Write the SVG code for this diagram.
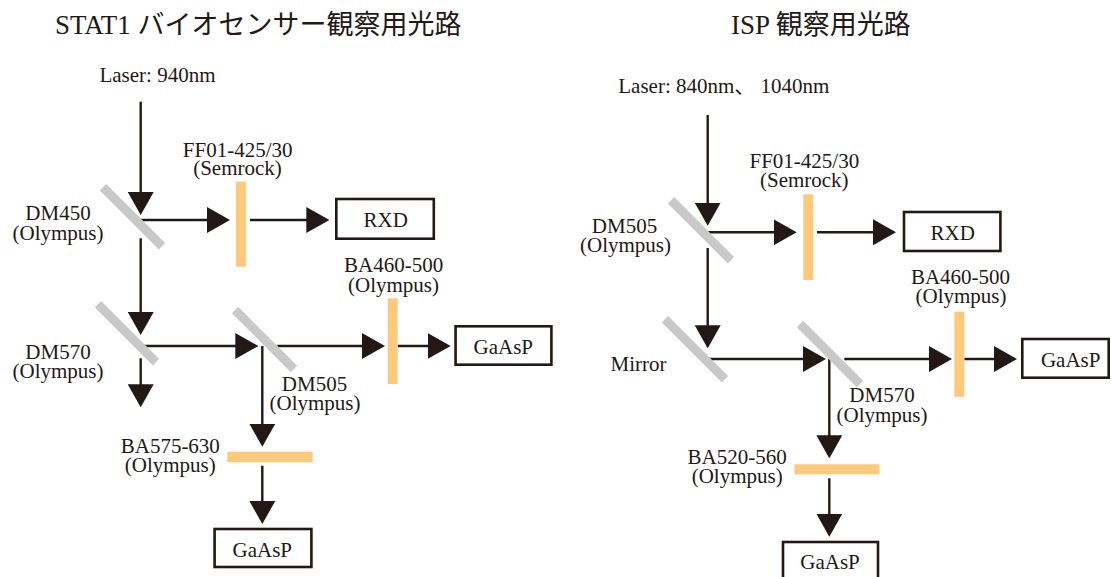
<svg xmlns="http://www.w3.org/2000/svg" width="1111" height="577" viewBox="0 0 1111 577">
<style>
  text { font-family: "Liberation Serif", "Times New Roman", serif; fill: #231815; font-size: 21px; }
  .jp { font-family: "Noto Sans CJK JP", sans-serif; }
  .title { font-size: 27px; }
  .mid { text-anchor: middle; }
  .mirror { stroke: #c9c9c9; stroke-width: 9; fill: none; }
  .filter { fill: #fdc97c; }
  .box { fill: #ffffff; stroke: #231815; stroke-width: 2.6; }
  .ray { stroke: #231815; stroke-width: 2.4; fill: none; marker-end: url(#ah); }
</style>
<defs>
  <marker id="ah" viewBox="0 0 23 26" refX="13" refY="13" markerWidth="23" markerHeight="26" markerUnits="userSpaceOnUse" orient="auto">
    <path d="M0,0 L23,13 L0,26 Z" fill="#231815"/>
  </marker>
</defs>
<rect width="1111" height="577" fill="#ffffff"/>

<!-- Titles -->
<g id="title-left"><text class="title" x="55" y="34">STAT1 <tspan class="jp">バイオセンサー観察用光路</tspan></text></g>
<g id="title-right"><text class="title" x="731" y="34">ISP <tspan class="jp">観察用光路</tspan></text></g>

<!-- Connectors (line end = tip - 10) -->
<g id="connectors">
  <!-- left -->
  <path class="ray" d="M140.7,101.7 V205"/>
  <path class="ray" d="M140.7,220 H220"/>
  <path class="ray" d="M250,220 H319.3"/>
  <path class="ray" d="M140.7,238.3 V325"/>
  <path class="ray" d="M141.7,346 H248.3"/>
  <path class="ray" d="M140.7,358.3 V397.3"/>
  <path class="ray" d="M262.3,346 V436.7"/>
  <path class="ray" d="M277.3,346 H375"/>
  <path class="ray" d="M397.7,346 H440.7"/>
  <path class="ray" d="M262.3,465.7 V514"/>
  <!-- right -->
  <path class="ray" d="M707.7,115 V215.7"/>
  <path class="ray" d="M707.7,232.3 H786.7"/>
  <path class="ray" d="M817,232.3 H886"/>
  <path class="ray" d="M707.7,248 V338.3"/>
  <path class="ray" d="M709,359 H816"/>
  <path class="ray" d="M844.3,359 H942"/>
  <path class="ray" d="M964.3,359 H1007"/>
  <path class="ray" d="M829.3,359 V448.3"/>
  <path class="ray" d="M829.3,478.3 V526.7"/>
</g>

<!-- Left diagram nodes -->
<g id="laser-left"><text class="mid" x="157.5" y="81.7">Laser: 940nm</text></g>
<g id="dm450">
  <line class="mirror" x1="103" y1="187.3" x2="162" y2="246.3"/>
  <text class="mid" x="58" y="220">DM450<tspan x="58" dy="20">(Olympus)</tspan></text>
</g>
<g id="ff01-left">
  <rect class="filter" x="236" y="181.7" width="10" height="85"/>
  <text class="mid" x="237.7" y="156.7">FF01-425/30<tspan x="237.5" dy="18.3">(Semrock)</tspan></text>
</g>
<g id="rxd-left">
  <rect class="box" x="336.3" y="199" width="97.5" height="39.7"/>
  <text class="mid" x="385.7" y="226.7">RXD</text>
</g>
<g id="dm570-left">
  <line class="mirror" x1="98" y1="304.3" x2="156" y2="362.3"/>
  <text class="mid" x="58" y="359.3">DM570<tspan x="58" dy="19">(Olympus)</tspan></text>
</g>
<g id="dm505-left">
  <line class="mirror" x1="235" y1="310" x2="294" y2="369"/>
  <text class="mid" x="314.5" y="390.7">DM505<tspan x="315" dy="19.3">(Olympus)</tspan></text>
</g>
<g id="ba460-left">
  <rect class="filter" x="387.7" y="298.3" width="10" height="85.7"/>
  <text class="mid" x="393.7" y="272.3">BA460-500<tspan x="393.5" dy="20">(Olympus)</tspan></text>
</g>
<g id="gaasp-left-1">
  <rect class="box" x="455.6" y="326.3" width="95.8" height="38.4"/>
  <text class="mid" x="503.3" y="354">GaAsP</text>
</g>
<g id="ba575-left">
  <rect class="filter" x="227.3" y="451.7" width="85.4" height="10.6"/>
  <text class="mid" x="170.3" y="452.7">BA575-630<tspan x="170.3" dy="19">(Olympus)</tspan></text>
</g>
<g id="gaasp-left-2">
  <rect class="box" x="214.6" y="529" width="96.8" height="38"/>
  <text class="mid" x="262.3" y="557.3">GaAsP</text>
</g>

<!-- Right diagram nodes -->
<g id="laser-right"><text x="618.3" y="93.3">Laser: 840nm<tspan class="jp">、</tspan> 1040nm</text></g>
<g id="dm505-right">
  <line class="mirror" x1="671" y1="200.3" x2="731" y2="260.3"/>
  <text class="mid" x="624.5" y="232.7">DM505<tspan x="625.5" dy="19.6">(Olympus)</tspan></text>
</g>
<g id="ff01-right">
  <rect class="filter" x="803.3" y="194.3" width="10" height="85.7"/>
  <text class="mid" x="804.3" y="168.3">FF01-425/30<tspan x="804.3" dy="19">(Semrock)</tspan></text>
</g>
<g id="rxd-right">
  <rect class="box" x="904" y="212" width="96.4" height="39"/>
  <text class="mid" x="952.7" y="240">RXD</text>
</g>
<g id="mirror-right">
  <line class="mirror" x1="665" y1="319.3" x2="725" y2="379.3"/>
  <text class="mid" x="638.5" y="371">Mirror</text>
</g>
<g id="dm570-right">
  <line class="mirror" x1="800" y1="324" x2="860" y2="384"/>
  <text class="mid" x="882" y="401.7">DM570<tspan x="882" dy="20">(Olympus)</tspan></text>
</g>
<g id="ba460-right">
  <rect class="filter" x="954.3" y="311.7" width="10" height="85"/>
  <text class="mid" x="960.5" y="284.3">BA460-500<tspan x="961" dy="19">(Olympus)</tspan></text>
</g>
<g id="gaasp-right-1">
  <rect class="box" x="1022.3" y="339" width="86.4" height="38.7"/>
  <text class="mid" x="1070.7" y="366.7">GaAsP</text>
</g>
<g id="ba520-right">
  <rect class="filter" x="794.3" y="464.3" width="85" height="10"/>
  <text class="mid" x="737.2" y="464">BA520-560<tspan x="737.2" dy="19.3">(Olympus)</tspan></text>
</g>
<g id="gaasp-right-2">
  <rect class="box" x="783" y="542" width="95" height="45"/>
  <text class="mid" x="830" y="569.3">GaAsP</text>
</g>
</svg>
